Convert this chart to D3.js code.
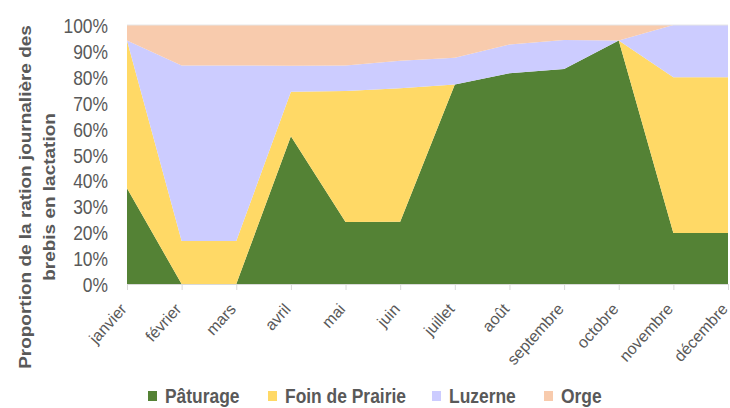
<!DOCTYPE html>
<html>
<head>
<meta charset="utf-8">
<script src="https://cdn.jsdelivr.net/npm/d3@7"></script>
<style>
  body { margin: 0; background: #fff; }
  svg text { font-family: "Liberation Sans", Arial, sans-serif; fill: #595959; }
</style>
</head>
<body>
<div id="chart"></div>
<script>
// data (% of daily ration)
var months = ["janvier", "février", "mars", "avril", "mai", "juin", "juillet", "août", "septembre", "octobre", "novembre", "décembre"];
var paturage = [37, 0, 0, 57, 24, 24, 77, 81.4, 83, 94, 19.7, 19.7];
var foin     = [57, 16.6, 16.6, 17.2, 50.8, 51.6, 0, 0, 0, 0, 60.1, 60.1];
var luzerne  = [0, 67.8, 67.8, 10.1, 9.9, 10.6, 10.4, 11.1, 11.2, 0, 20.2, 20.2];
var orge     = [6, 15.6, 15.6, 15.7, 15.7, 13.8, 12.6, 7.5, 5.8, 6, 0, 0];
var seriesNames = ["Pâturage", "Foin de Prairie", "Luzerne", "Orge"];
var colors = ["#548235", "#FFD966", "#CCCCFF", "#F8CBAD"];
var yTicks = [0, 0.1, 0.2, 0.3, 0.4, 0.5, 0.6, 0.7, 0.8, 0.9, 1];

var rows = months.map(function (m, i) {
  return { month: m, "Pâturage": paturage[i], "Foin de Prairie": foin[i], "Luzerne": luzerne[i], "Orge": orge[i] };
});

// the original text looks horizontally squeezed
var SX = 0.83;

var W = 730, H = 408;
var margin = { top: 25, right: 2, bottom: 124, left: 127 };
var width = W - margin.left - margin.right,
    height = H - margin.top - margin.bottom;

var svg = d3.select("#chart").append("svg")
  .attr("width", W).attr("height", H);
var g = svg.append("g")
  .attr("transform", "translate(" + margin.left + "," + margin.top + ")");

var x = d3.scalePoint().domain(months).range([0, width]);
var y = d3.scaleLinear().domain([0, 1]).range([height, 0]);

var stacked = d3.stack().keys(seriesNames).offset(d3.stackOffsetExpand)(rows);

var area = d3.area()
  .x(function (d) { return x(d.data.month); })
  .y0(function (d) { return y(d[0]); })
  .y1(function (d) { return y(d[1]); });

g.selectAll("path.layer")
  .data(stacked)
  .enter().append("path")
  .attr("class", "layer")
  .attr("d", area)
  .attr("fill", function (d, i) { return colors[i]; });

// light frame line at top
g.append("line")
  .attr("x1", 0).attr("x2", width).attr("y1", 0).attr("y2", 0)
  .attr("stroke", "#e6e6e6").attr("stroke-width", 1);

// x axis
var xAxis = g.append("g")
  .attr("transform", "translate(0," + height + ")")
  .call(d3.axisBottom(x).tickSize(6));
xAxis.select(".domain").attr("stroke", "#d9d9d9");
xAxis.selectAll(".tick line").attr("stroke", "#d9d9d9");
xAxis.selectAll("text")
  .attr("font-size", 16)
  .attr("dy", "0.35em")
  .attr("y", 0)
  .attr("x", 0)
  .attr("text-anchor", "end")
  .attr("transform", "translate(-4,22) rotate(-48)");

// y axis
var yAxis = g.append("g")
  .call(d3.axisLeft(y).tickValues(yTicks).tickFormat(d3.format(".0%")).tickSize(0).tickPadding(0));
yAxis.select(".domain").remove();
yAxis.selectAll("text")
  .attr("font-size", 21)
  .attr("dy", "0.36em")
  .attr("x", 0)
  .attr("transform", "translate(-19,0) scale(" + SX + ",1)");

// y title, two centred lines
var titleLines = ["Proportion de la ration journalière des", "brebis en lactation"];
var titleX = [31, 55];
titleLines.forEach(function (t, i) {
  svg.append("text")
    .attr("transform", "translate(" + titleX[i] + ",197) scale(" + SX + ",1) rotate(-90)")
    .attr("text-anchor", "middle")
    .attr("font-weight", "bold")
    .attr("font-size", 19)
    .text(t);
});

// legend
var legendX = [148, 268, 432, 544];
var legend = svg.append("g").attr("transform", "translate(0,396)");
seriesNames.forEach(function (name, i) {
  legend.append("rect")
    .attr("x", legendX[i]).attr("y", -5)
    .attr("width", 9).attr("height", 10)
    .attr("fill", colors[i]);
  legend.append("text")
    .attr("transform", "translate(" + (legendX[i] + 17) + ",0) scale(" + SX + ",1)")
    .attr("dy", "0.35em")
    .attr("font-size", 21)
    .attr("font-weight", "bold")
    .text(name);
});
</script>
</body>
</html>
